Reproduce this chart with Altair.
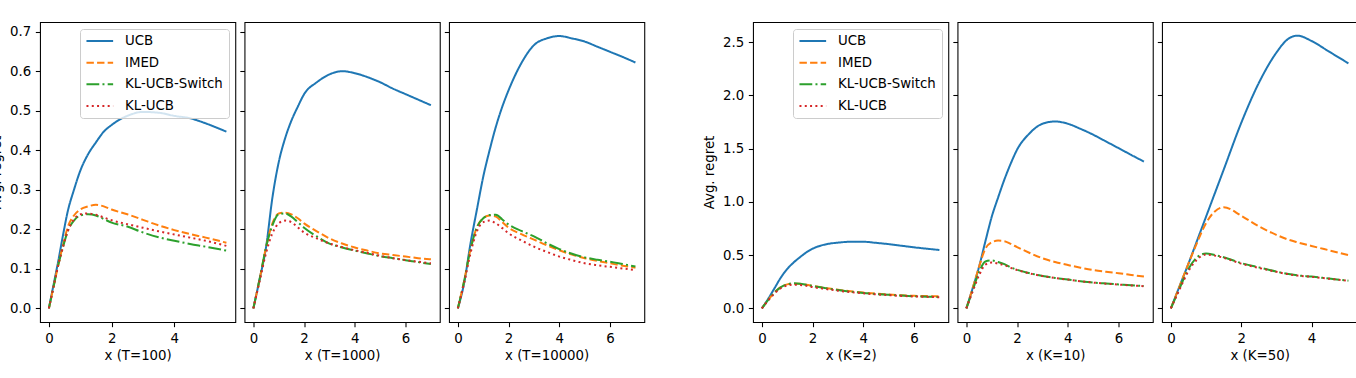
import altair as alt
import pandas as pd

ALGOS = ["UCB", "IMED", "KL-UCB-Switch", "KL-UCB"]
COLORS = ["#1f77b4", "#ff7f0e", "#2ca02c", "#d62728"]
DASHES = [[1, 0], [7.4, 3.2], [12.8, 3.2, 2, 3.2], [2, 3.3]]

# ---- varying horizon T ----
x_t100 = [0, 0.15, 0.3, 0.45, 0.6, 0.8, 1.0, 1.25, 1.5, 1.75, 2.0, 2.5, 3.0, 3.5, 4.0, 4.5, 5.0, 5.66]
t100_ucb = [0, 0.06, 0.12, 0.185, 0.245, 0.30, 0.348, 0.39, 0.42, 0.447, 0.464, 0.487, 0.497, 0.495, 0.487, 0.481, 0.468, 0.447]
t100_imed = [0, 0.055, 0.11, 0.16, 0.205, 0.235, 0.25, 0.258, 0.262, 0.258, 0.25, 0.238, 0.224, 0.21, 0.198, 0.188, 0.179, 0.166]
t100_switch = [0, 0.055, 0.11, 0.155, 0.195, 0.222, 0.235, 0.238, 0.235, 0.226, 0.217, 0.207, 0.192, 0.18, 0.171, 0.163, 0.156, 0.146]
t100_klucb = [0, 0.055, 0.11, 0.155, 0.195, 0.225, 0.238, 0.24, 0.237, 0.23, 0.223, 0.213, 0.204, 0.195, 0.187, 0.179, 0.171, 0.158]

x_grid7 = [0, 0.25, 0.5, 0.75, 1.0, 1.25, 1.5, 1.75, 2.0, 2.5, 3.0, 3.5, 4.0, 4.5, 5.0, 5.5, 6.0, 6.5, 7.0]

t1000_ucb = [0, 0.075, 0.155, 0.28, 0.37, 0.43, 0.475, 0.51, 0.542, 0.572, 0.592, 0.6, 0.595, 0.585, 0.572, 0.556, 0.542, 0.528, 0.514]
t1000_imed = [0, 0.075, 0.155, 0.215, 0.24, 0.242, 0.238, 0.228, 0.215, 0.195, 0.177, 0.164, 0.154, 0.146, 0.139, 0.135, 0.131, 0.127, 0.124]
t1000_switch = [0, 0.075, 0.155, 0.21, 0.238, 0.24, 0.232, 0.218, 0.204, 0.182, 0.164, 0.154, 0.146, 0.139, 0.132, 0.127, 0.122, 0.117, 0.112]
t1000_klucb = [0, 0.07, 0.14, 0.19, 0.215, 0.222, 0.218, 0.205, 0.192, 0.177, 0.164, 0.155, 0.147, 0.14, 0.133, 0.127, 0.122, 0.118, 0.114]

t10000_ucb = [0, 0.065, 0.165, 0.25, 0.333, 0.4, 0.46, 0.51, 0.552, 0.62, 0.666, 0.683, 0.689, 0.683, 0.675, 0.662, 0.649, 0.636, 0.622]
t10000_imed = [0, 0.07, 0.15, 0.205, 0.228, 0.235, 0.232, 0.218, 0.204, 0.188, 0.174, 0.16, 0.147, 0.136, 0.127, 0.12, 0.114, 0.108, 0.103]
t10000_switch = [0, 0.07, 0.15, 0.205, 0.228, 0.236, 0.237, 0.225, 0.212, 0.196, 0.182, 0.165, 0.15, 0.138, 0.129, 0.123, 0.118, 0.112, 0.106]
t10000_klucb = [0, 0.065, 0.14, 0.195, 0.218, 0.222, 0.215, 0.203, 0.19, 0.172, 0.156, 0.143, 0.131, 0.122, 0.114, 0.109, 0.105, 0.101, 0.097]

# ---- varying number of arms K ----
k2_ucb = [0, 0.09, 0.19, 0.29, 0.37, 0.43, 0.48, 0.525, 0.56, 0.6, 0.617, 0.625, 0.625, 0.615, 0.603, 0.588, 0.573, 0.56, 0.548]
k2_imed = [0, 0.08, 0.15, 0.2, 0.225, 0.232, 0.23, 0.222, 0.212, 0.192, 0.175, 0.16, 0.148, 0.138, 0.13, 0.123, 0.118, 0.115, 0.113]
k2_switch = [0, 0.08, 0.15, 0.2, 0.225, 0.235, 0.232, 0.222, 0.21, 0.19, 0.172, 0.157, 0.145, 0.135, 0.127, 0.12, 0.114, 0.11, 0.107]
k2_klucb = [0, 0.075, 0.14, 0.19, 0.215, 0.222, 0.22, 0.212, 0.2, 0.182, 0.166, 0.152, 0.141, 0.132, 0.124, 0.117, 0.112, 0.108, 0.105]

k10_ucb = [0, 0.19, 0.39, 0.63, 0.86, 1.04, 1.21, 1.36, 1.49, 1.645, 1.733, 1.754, 1.733, 1.685, 1.63, 1.567, 1.504, 1.44, 1.378]
k10_imed = [0, 0.19, 0.39, 0.56, 0.62, 0.636, 0.63, 0.605, 0.575, 0.52, 0.47, 0.435, 0.407, 0.382, 0.36, 0.344, 0.33, 0.314, 0.298]
k10_switch = [0, 0.17, 0.34, 0.44, 0.45, 0.435, 0.415, 0.385, 0.362, 0.33, 0.304, 0.286, 0.27, 0.255, 0.242, 0.233, 0.225, 0.217, 0.21]
k10_klucb = [0, 0.16, 0.31, 0.41, 0.43, 0.42, 0.405, 0.38, 0.36, 0.328, 0.303, 0.285, 0.27, 0.255, 0.242, 0.232, 0.223, 0.215, 0.208]

x_k50 = [0, 0.25, 0.5, 0.75, 1.0, 1.25, 1.5, 2.0, 2.5, 3.0, 3.3, 3.6, 4.0, 4.5, 5.05]
k50_ucb = [0, 0.21, 0.42, 0.64, 0.86, 1.08, 1.3, 1.74, 2.115, 2.4, 2.52, 2.56, 2.51, 2.41, 2.30]
k50_imed = [0, 0.21, 0.42, 0.62, 0.8, 0.91, 0.95, 0.87, 0.77, 0.69, 0.65, 0.62, 0.586, 0.545, 0.5]
k50_switch = [0, 0.19, 0.37, 0.48, 0.515, 0.5, 0.48, 0.425, 0.385, 0.345, 0.325, 0.31, 0.298, 0.28, 0.26]
k50_klucb = [0, 0.18, 0.35, 0.46, 0.505, 0.495, 0.475, 0.42, 0.38, 0.343, 0.323, 0.308, 0.296, 0.278, 0.258]

# axis settings
Y_T_DOMAIN = [-0.0345, 0.7245]
Y_T_TICKS = [0.0, 0.1, 0.2, 0.3, 0.4, 0.5, 0.6, 0.7]
Y_K_DOMAIN = [-0.128, 2.688]
Y_K_TICKS = [0.0, 0.5, 1.0, 1.5, 2.0, 2.5]
X_DOM_7 = [-0.35, 7.35]
X_TICKS_7 = [0, 2, 4, 6]

PANEL_W = 195.3
PANEL_H = 300
PANEL_GAP = 8.5
GROUP_GAP = 108

legend_style = alt.Legend(
    title=None,
    orient="top-right",
    offset=6.67,
    padding=5.3,
    fillColor="rgba(255,255,255,0.8)",
    strokeColor="#cccccc",
    cornerRadius=3,
    symbolType="stroke",
    symbolSize=711,
    symbolStrokeWidth=2,
    labelFont="DejaVu Sans",
    labelFontSize=13.33,
    labelColor="black",
    labelOffset=10.7,
    rowPadding=6.67,
    clipHeight=13.33,
)


def panel(xs, series, xlabel, xdom, xticks, ydom, yticks, first):
    rows = []
    for algo, vals in zip(ALGOS, series):
        for x, v in zip(xs, vals):
            rows.append({"x": x, "regret": v, "algo": algo})
    df = pd.DataFrame(rows)

    color_kw = {"scale": alt.Scale(domain=ALGOS, range=COLORS)}
    dash_kw = {"scale": alt.Scale(domain=ALGOS, range=DASHES)}
    if first:
        color_kw["legend"] = legend_style
        dash_kw["legend"] = legend_style
    else:
        color_kw["legend"] = None
        dash_kw["legend"] = None

    return (
        alt.Chart(df)
        .mark_line(strokeWidth=2, interpolate="monotone")
        .encode(
            x=alt.X(
                "x:Q",
                scale=alt.Scale(domain=xdom, nice=False, zero=False),
                axis=alt.Axis(values=xticks, format="d", title=xlabel),
            ),
            y=alt.Y(
                "regret:Q",
                scale=alt.Scale(domain=ydom, nice=False, zero=False),
                axis=alt.Axis(
                    values=yticks,
                    format=".1f",
                    labels=first,
                    title="Avg. regret" if first else "",
                ),
            ),
            color=alt.Color("algo:N", **color_kw),
            strokeDash=alt.StrokeDash("algo:N", **dash_kw),
        )
        .properties(width=PANEL_W, height=PANEL_H)
    )


# empty, unframed cell that separates the T and K groups
gap_cell = (
    alt.Chart(pd.DataFrame({"v": [0]}))
    .mark_point(opacity=0)
    .properties(
        width=GROUP_GAP - 2 * PANEL_GAP,
        height=PANEL_H,
        view=alt.ViewBackground(stroke="transparent"),
    )
)

panels = [
    panel(x_t100, [t100_ucb, t100_imed, t100_switch, t100_klucb], "x (T=100)",
          [-0.283, 5.943], [0, 2, 4], Y_T_DOMAIN, Y_T_TICKS, True),
    panel(x_grid7, [t1000_ucb, t1000_imed, t1000_switch, t1000_klucb], "x (T=1000)",
          X_DOM_7, X_TICKS_7, Y_T_DOMAIN, Y_T_TICKS, False),
    panel(x_grid7, [t10000_ucb, t10000_imed, t10000_switch, t10000_klucb], "x (T=10000)",
          X_DOM_7, X_TICKS_7, Y_T_DOMAIN, Y_T_TICKS, False),
    gap_cell,
    panel(x_grid7, [k2_ucb, k2_imed, k2_switch, k2_klucb], "x (K=2)",
          X_DOM_7, X_TICKS_7, Y_K_DOMAIN, Y_K_TICKS, True),
    panel(x_grid7, [k10_ucb, k10_imed, k10_switch, k10_klucb], "x (K=10)",
          X_DOM_7, X_TICKS_7, Y_K_DOMAIN, Y_K_TICKS, False),
    panel(x_k50, [k50_ucb, k50_imed, k50_switch, k50_klucb], "x (K=50)",
          [-0.2525, 5.3025], [0, 2, 4], Y_K_DOMAIN, Y_K_TICKS, False),
]

chart = (
    alt.hconcat(*panels, spacing=PANEL_GAP, bounds="flush")
    .resolve_scale(x="independent", y="independent", color="independent", strokeDash="independent")
    .resolve_legend(color="independent", strokeDash="independent")
    .properties(
        autosize=alt.AutoSizeParams(type="none"),
        padding={"left": 40, "top": 22, "right": 1316, "bottom": 356},
        background="white",
    )
    .configure_view(stroke="black", strokeWidth=1.07)
    .configure_axis(
        labelFont="DejaVu Sans",
        labelFontSize=13.33,
        labelColor="black",
        titleFont="DejaVu Sans",
        titleFontSize=13.33,
        titleFontWeight="normal",
        titleColor="black",
        tickColor="black",
        tickSize=4.67,
        tickWidth=1.07,
        labelPadding=4.67,
        labelFlush=False,
        domain=False,
        grid=False,
    )
    .configure_axisX(titlePadding=4)
    .configure_axisY(titlePadding=6)
)

chart.save("out.html", embed_options={"renderer": "svg", "actions": False})
